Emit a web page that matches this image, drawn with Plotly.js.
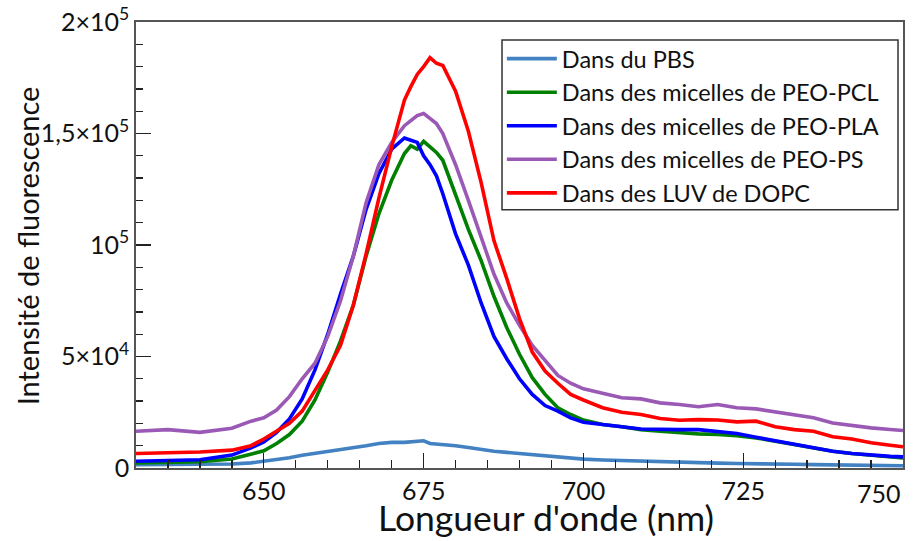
<!DOCTYPE html>
<html>
<head>
<meta charset="utf-8">
<script src="https://cdn.plot.ly/plotly-3.0.1.min.js"></script>
<style>html,body{margin:0;padding:0;background:#fff}#chart{width:914px;height:541px}</style>
</head>
<body>
<div id="chart"></div>
<script>
const wavelength = [630,635,640,645,648,650,652,654,656,658,660,662,664,666,668,670,672,673,674,675,676,677,678,680,682,684,686,688,690,692,694,696,698,700,703,706,709,712,715,718,721,724,727,730,733,736,739,742,745,748,750];

const pbs  = [0.15,0.15,0.15,0.18,0.23,0.30,0.38,0.46,0.57,0.65,0.74,0.82,0.90,1.00,1.10,1.15,1.15,1.17,1.20,1.22,1.10,1.08,1.05,1.00,0.92,0.82,0.75,0.70,0.65,0.60,0.52,0.47,0.42,0.40,0.36,0.33,0.30,0.30,0.27,0.25,0.22,0.20,0.20,0.18,0.17,0.15,0.14,0.13,0.12,0.10,0.10];
const pcl  = [0.23,0.25,0.28,0.40,0.60,0.77,1.10,1.50,2.10,3.05,4.30,5.70,7.30,9.50,11.4,12.9,14.1,14.45,14.3,14.65,14.4,14.15,13.8,12.2,10.7,9.3,7.7,6.3,5.1,4.05,3.3,2.7,2.4,2.15,1.95,1.85,1.72,1.65,1.57,1.53,1.50,1.45,1.35,1.20,1.03,0.90,0.75,0.65,0.57,0.50,0.45];
const pla  = [0.30,0.33,0.37,0.58,0.90,1.17,1.60,2.20,3.10,4.40,6.00,7.80,9.50,11.6,13.2,14.3,14.8,14.7,14.6,14.0,13.6,13.1,12.3,10.5,9.1,7.4,5.9,4.9,4.0,3.3,2.8,2.55,2.25,2.05,1.97,1.85,1.75,1.72,1.72,1.72,1.65,1.55,1.38,1.22,1.03,0.88,0.75,0.65,0.57,0.52,0.50];
const ps   = [1.65,1.72,1.60,1.78,2.10,2.25,2.60,3.20,4.00,4.70,5.90,7.50,9.50,11.9,13.6,14.6,15.35,15.6,15.8,15.9,15.65,15.45,15.0,13.6,12.0,10.4,8.7,7.4,6.4,5.5,4.8,4.15,3.8,3.55,3.35,3.15,3.10,2.92,2.85,2.75,2.85,2.70,2.65,2.52,2.40,2.25,2.02,1.90,1.80,1.73,1.68];
const dopc = [0.65,0.68,0.72,0.80,1.00,1.30,1.65,2.00,2.55,3.50,4.40,5.50,7.30,9.60,12.1,14.4,16.5,17.1,17.65,18.0,18.4,18.15,18.05,16.9,15.1,12.8,10.2,8.5,6.7,5.2,4.35,3.8,3.3,3.05,2.7,2.5,2.4,2.22,2.14,2.17,2.15,2.07,2.10,1.85,1.72,1.65,1.40,1.30,1.13,1.02,0.95];
const scale = 1e4;

const seriesNames = ["Dans du PBS","Dans des micelles de PEO-PCL","Dans des micelles de PEO-PLA","Dans des micelles de PEO-PS","Dans des LUV de DOPC"];
const seriesColors = ["#4382c2","#008000","#0000ff","#9b59b6","#ff0000"];
const seriesData = [pbs, pcl, pla, ps, dopc];

const xTickVals = [650,675,700,725,750];
const xTickText = ["650","675","700","725",""];
const yTickVals = [0,5e4,1e5,1.5e5,2e5];
const yTickText = ["0","5×10<sup>4</sup>","10<sup>5</sup>","1,5×10<sup>5</sup>","2×10<sup>5</sup>"];
const xTitle = "Longueur d'onde (nm)";
const yTitle = "Intensité de fluorescence";

const FONT = "Lato, 'Open Sans', sans-serif";

const traces = seriesData.map((d,i)=>({
  x: wavelength,
  y: d.map(v=>v*scale),
  type: "scatter",
  mode: "lines",
  name: seriesNames[i],
  legendgroup: "g"+i,
  line: {color: seriesColors[i], width: 3.6}
}));

const layout = {
  width: 914, height: 541,
  margin: {l:136, r:11, t:22, b:72.5},
  paper_bgcolor: "#fff", plot_bgcolor: "#fff",
  font: {family: FONT, color: "#111", size: 20},
  showlegend: true,
  legend: {
    x: 0.477, y: 0.9667, xanchor: "left", yanchor: "top",
    bgcolor: "rgba(0,0,0,0)", borderwidth: 0,
    font: {family: FONT, size: 23.5, color: "#111"},
    traceorder: "grouped", tracegroupgap: 0,
    itemwidth: 50
  },
  shapes: [{
    type: "rect", xref: "paper", yref: "paper", layer: "below",
    x0: 0.4772, x1: 0.9935, y0: 0.579, y1: 0.9597,
    line: {color: "#333", width: 1.5}, fillcolor: "#fff"
  }],
  xaxis: {
    range: [630, 750], showgrid: false, zeroline: false,
    showline: true, linecolor: "#555", linewidth: 1.8, mirror: true,
    ticks: "inside", ticklen: 15, tickwidth: 1.3, tickcolor: "#222",
    tickvals: xTickVals, ticktext: xTickText,
    tickfont: {family: FONT, size: 25, color: "#111"},
    minor: {dtick: 5, ticks: "inside", ticklen: 8, tickwidth: 1.3, tickcolor: "#222"}
  },
  yaxis: {
    range: [0, 2e5], showgrid: false, zeroline: false,
    showline: true, linecolor: "#555", linewidth: 1.8, mirror: true,
    ticks: "inside", ticklen: 15, tickwidth: 1.3, tickcolor: "#222",
    tickvals: yTickVals, ticktext: yTickText,
    tickfont: {family: FONT, size: 25, color: "#111"},
    minor: {dtick: 1e4, ticks: "inside", ticklen: 7, tickwidth: 1.3, tickcolor: "#222"}
  },
  annotations: [
    {xref: "paper", yref: "paper", x: 1, y: 0, xanchor: "right", yanchor: "top",
     yshift: -8, text: "750", showarrow: false,
     font: {family: FONT, size: 25, color: "#111"}},
    {xref: "paper", yref: "paper", x: 0.535, y: 0, xanchor: "center", yanchor: "bottom",
     yshift: -72.5, text: xTitle, showarrow: false,
     font: {family: FONT, size: 35.5, color: "#111"}},
    {xref: "paper", yref: "paper", x: -0.1421, y: 0.497, xanchor: "center", yanchor: "middle",
     textangle: -90, text: yTitle, showarrow: false,
     font: {family: FONT, size: 29, color: "#111"}}
  ]
};

Plotly.newPlot("chart", traces, layout, {displayModeBar: false, staticPlot: true});
</script>
</body>
</html>
